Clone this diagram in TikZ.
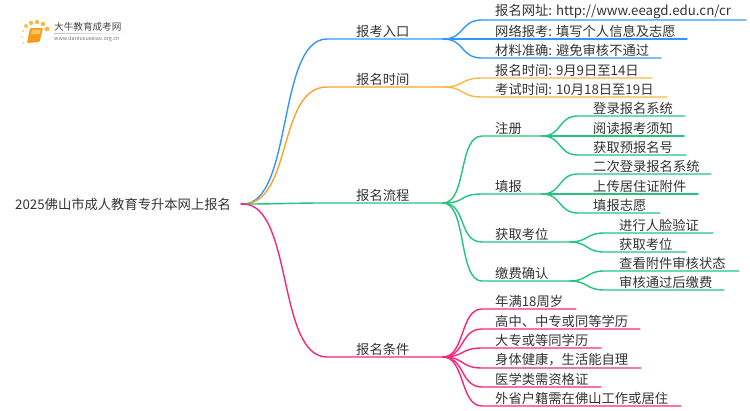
\documentclass[tikz,border=0pt]{standalone}
\usepackage{fontspec}
\setmainfont{Noto Sans CJK SC}
\definecolor{cblue}{HTML}{3296FA}
\definecolor{corange}{HTML}{F9B84A}
\definecolor{cgreen}{HTML}{22C47E}
\definecolor{cpink}{HTML}{F5277F}
\definecolor{ctext}{HTML}{333333}
\definecolor{bookc}{HTML}{F59A1B}
\definecolor{bookl}{HTML}{FBC455}
\usetikzlibrary{calc}
\tikzset{
  lab/.style={anchor=west,inner sep=0pt,text=ctext,font=\fontsize{13.3}{15}\selectfont},
  linkline/.style={line width=1.4pt,line cap=round},
}
% name, colour, parent, curve half-length, start x, end x, y, text x, text
\newcommand{\mapitem}[9]{%
  \coordinate (#1s) at (#5,#7);
  \coordinate (#1e) at (#6,#7);
  \node[lab] (#1) at (#8,#7-8) {#9};
  \draw[linkline,#2] (#3) .. controls +(#4,0) and +(-#4,0) .. (#1s) -- (#1e);
}
\begin{document}
\begin{tikzpicture}[x=1pt,y=-1pt]
\useasboundingbox (0,0) rectangle (750,410);
% logo
\foreach \px/\py/\r/\c in {26/26/2/F9C04A,31/23/2.2/F9B93A,37/22/2.2/F9B93A,43/24/2.2/F9B93A,47/29/2.4/F9B93A,23/31/1.4/FBD58A,22/37/1.2/FBD58A,23/43/1.1/FBD58A}{
  \definecolor{dc}{HTML}{\c}
  \fill[dc] (\px,\py) circle (\r);
}
\fill[bookc,rounded corners=1pt] (30,28) -- (43,28) -- (39.5,42) -- (27,43) -- cycle;
\fill[bookl] (32,29.5) -- (41,29.5) -- (40,34) -- (31,34.5) -- cycle;
\node[anchor=west,inner sep=0pt,text=ctext!90,font=\fontsize{9.6}{11}\selectfont] (logotitle) at (54,27) {大牛教育成考网};
\node[anchor=west,inner sep=0pt,text=black!55,font=\fontsize{5.4}{7}\selectfont] (logourl) at (54,39) {www.daniuxuexiao.org.cn};
\fill[left color=black!25,right color=white] (54,33) rectangle (132,33.7);
% root
\node[lab] (root) at (15,204) {2025佛山市成人教育专升本网上报名};
\coordinate (hub) at (243,204);
\coordinate (hubl) at (241,204);
% level 1
\mapitem{a}{cblue}{hub}{50}{327}{443}{39}{356}{报考入口}
\mapitem{b}{corange!60!orange}{hub}{50}{327}{443}{87}{356}{报名时间}
\mapitem{c}{cgreen}{hub}{40}{327}{443}{203}{356}{报名流程}
\mapitem{d}{cpink}{hub}{50}{327}{443}{357}{356}{报名条件}
\draw[linkline,cpink] (hubl) -- (hub);
% blue
\mapitem{a1}{cblue}{ae}{22}{482}{746}{20}{495}{报名网址: http://www.eeagd.edu.cn/cr}
\mapitem{a2}{cblue}{ae}{22}{482}{687}{39}{495}{网络报考: 填写个人信息及志愿}
\mapitem{a3}{cblue}{ae}{22}{482}{661}{58}{495}{材料准确: 避免审核不通过}
% orange
\mapitem{b1}{corange}{be}{22}{482}{652}{78}{495}{报名时间: 9月9日至14日}
\mapitem{b2}{corange}{be}{22}{482}{667}{97}{495}{考试时间: 10月18日至19日}
% green level 2
\mapitem{c1}{cgreen}{ce}{24}{482}{542}{136}{495}{注册}
\mapitem{c2}{cgreen}{ce}{24}{482}{542}{194}{495}{填报}
\mapitem{c3}{cgreen}{ce}{24}{482}{570}{242}{495}{获取考位}
\mapitem{c4}{cgreen}{ce}{24}{482}{570}{281}{495}{缴费确认}
% green level 3
\mapitem{c11}{cgreen}{c1e}{20}{578}{685}{116}{593}{登录报名系统}
\mapitem{c12}{cgreen}{c1e}{20}{578}{684}{136}{593}{阅读报考须知}
\mapitem{c13}{cgreen}{c1e}{20}{578}{686}{155}{593}{获取预报名号}
\mapitem{c21}{cgreen}{c2e}{20}{578}{711}{174}{593}{二次登录报名系统}
\mapitem{c22}{cgreen}{c2e}{20}{578}{698}{194}{593}{上传居住证附件}
\mapitem{c23}{cgreen}{c2e}{20}{578}{660}{213}{593}{填报志愿}
\mapitem{c31}{cgreen}{c3e}{18}{604}{713}{233}{619}{进行人脸验证}
\mapitem{c32}{cgreen}{c3e}{18}{604}{686}{252}{619}{获取考位}
\mapitem{c41}{cgreen}{c4e}{18}{604}{739}{271}{619}{查看附件审核状态}
\mapitem{c42}{cgreen}{c4e}{18}{604}{724}{290}{619}{审核通过后缴费}
% pink
\mapitem{d1}{cpink}{de}{22}{482}{576}{309}{495}{年满18周岁}
\mapitem{d2}{cpink}{de}{22}{482}{640}{329}{495}{高中、中专或同等学历}
\mapitem{d3}{cpink}{de}{22}{482}{601}{348}{495}{大专或等同学历}
\mapitem{d4}{cpink}{de}{22}{482}{641}{368}{495}{身体健康，生活能自理}
\mapitem{d5}{cpink}{de}{22}{482}{601}{387}{495}{医学类需资格证}
\mapitem{d6}{cpink}{de}{22}{482}{681}{406}{495}{外省户籍需在佛山工作或居住}
\end{tikzpicture}
\end{document}
